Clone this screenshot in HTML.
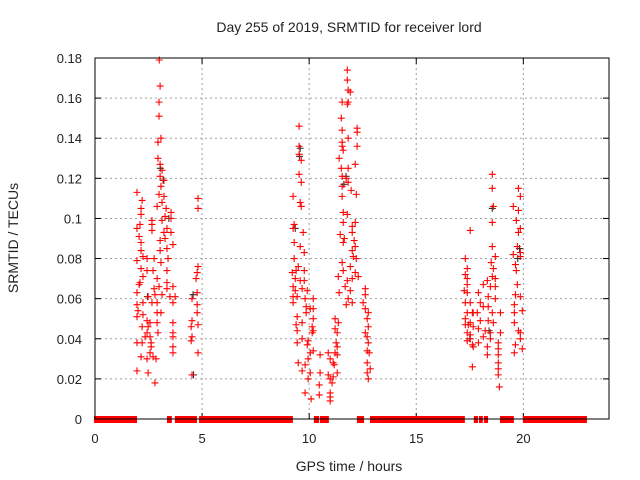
<!DOCTYPE html>
<html><head><meta charset="utf-8"><style>
html,body{margin:0;padding:0;background:#fff;}
svg{display:block;font-family:"Liberation Sans",sans-serif;}
</style></head><body>
<svg id="chart" width="640" height="480" viewBox="0 0 640 480" xmlns="http://www.w3.org/2000/svg">
<rect width="640" height="480" fill="#fff"/>
<text x="349" y="32" font-size="14" text-anchor="middle" fill="#222">Day 255 of 2019, SRMTID for receiver lord</text>
<text x="349" y="471" font-size="14" text-anchor="middle" fill="#222">GPS time / hours</text>
<text transform="translate(18,238) rotate(-90)" font-size="14" text-anchor="middle" fill="#222">SRMTID / TECUs</text>
<g id="grid"></g>
<g id="ticks"></g>
<g id="zeros"></g>
<g id="others"></g>
<g id="points"></g>
<rect x="95" y="58" width="514" height="361" fill="none" stroke="#000" stroke-width="1"/>
</svg>
<script>
const xTicks = [0,5,10,15,20];
const yTicks = [0,0.02,0.04,0.06,0.08,0.1,0.12,0.14,0.16,0.18];
const yTickLabels = ["0","0.02","0.04","0.06","0.08","0.1","0.12","0.14","0.16","0.18"];
const zeroIntervals = [[-0.05,1.96],[3.36,3.59],[3.73,4.76],[4.86,9.24],[10.22,10.46],[10.50,10.92],[12.23,12.56],[12.84,17.27],[17.69,17.88],[17.93,18.11],[18.16,18.35],[18.91,19.56],[19.98,22.97]];
const timeH = [
3.00,3.04,2.99,2.99,3.08,2.94,2.94,3.04,3.13,3.04,3.22,3.08,1.96,2.99,3.22,2.20,3.13,2.90,3.32,2.15,2.15,3.55,3.27,3.55,2.66,3.13,2.10,2.66,3.36,1.96,2.66,3.22,3.55,2.06,3.27,3.04,3.64,2.15,3.36,3.04,2.15,2.24,1.96,2.43,2.76,3.41,3.08,2.15,2.43,2.71,3.36,2.24,2.90,2.10,3.36,2.06,2.99,3.64,1.96,2.76,2.80,3.13,3.36,2.48,3.50,3.74,1.96,2.24,2.66,2.90,3.64,2.01,2.90,3.08,1.96,2.24,2.43,2.57,3.64,2.20,2.48,2.90,2.43,2.94,3.64,2.34,2.57,3.64,1.96,2.20,2.62,2.62,3.64,2.57,2.15,2.71,3.64,2.43,2.85,1.96,2.48,2.80,
4.81,4.81,4.81,4.77,4.72,4.77,4.53,4.77,4.77,4.81,4.53,4.49,4.53,4.49,4.81,4.53,
9.53,9.53,9.53,9.63,9.53,9.63,9.25,9.58,9.63,9.30,9.25,9.72,9.30,9.58,9.77,9.30,9.49,9.21,9.39,9.77,9.35,9.58,9.77,9.25,9.35,9.67,9.91,9.25,9.44,9.81,10.19,9.25,9.86,10.05,10.19,9.44,9.86,9.67,10.19,9.39,10.14,10.19,10.14,9.44,9.67,9.95,9.91,9.44,10.19,10.51,10.05,9.95,9.49,9.81,9.67,10.05,9.95,10.51,10.47,9.81,10.09,10.47,
11.21,11.36,11.21,11.31,11.26,11.31,10.89,11.21,11.31,10.98,11.12,11.17,11.31,10.89,10.98,11.07,11.12,10.98,10.98,10.98,
11.78,11.78,11.82,11.92,11.54,11.82,11.78,11.50,11.54,12.24,12.24,11.82,11.54,11.54,11.59,12.24,11.40,12.15,11.50,11.82,11.54,11.73,11.82,11.54,11.96,12.20,11.54,11.59,11.78,12.15,11.59,12.01,12.01,11.45,11.64,12.10,11.59,12.15,12.01,12.06,12.20,11.54,11.92,11.59,12.15,11.36,12.01,11.78,12.29,11.68,11.92,11.40,11.82,12.01,11.73,
12.62,12.62,12.52,12.62,12.76,12.71,12.76,12.62,12.71,12.76,12.71,12.80,12.71,12.85,12.71,12.76,
17.52,17.29,17.38,17.29,17.38,17.38,17.24,17.38,17.29,17.52,17.38,17.62,17.66,17.29,17.52,17.43,17.29,17.66,17.38,17.52,17.52,17.38,17.62,17.66,17.62,
18.55,18.55,18.60,18.55,18.55,18.69,18.50,18.60,18.55,18.69,18.32,18.13,18.46,18.69,17.90,18.36,18.69,17.99,18.13,18.36,17.85,18.55,18.93,17.99,18.36,18.60,17.90,18.22,18.46,18.93,18.13,18.46,18.83,17.90,18.32,18.83,18.32,18.83,18.83,18.83,18.83,18.88,
19.77,19.86,19.53,19.77,19.67,19.86,19.77,19.72,19.86,19.53,19.86,19.63,19.67,19.72,19.63,19.86,19.58,19.95,19.58,19.58,19.77,19.86,19.86,19.63,19.95,19.58
];
const srmtid = [
.179,.166,.158,.151,.140,.138,.130,.127,.124,.121,.119,.116,.113,.112,.111,.109,.108,.106,.105,.105,.102,.103,.101,.100,.099,.099,.097,.097,.095,.095,.094,.093,.093,.091,.090,.089,.087,.088,.085,.084,.084,.081,.079,.080,.080,.080,.078,.075,.074,.074,.074,.071,.070,.068,.068,.067,.066,.066,.063,.065,.062,.062,.065,.061,.061,.061,.057,.058,.058,.058,.058,.054,.053,.053,.051,.052,.049,.048,.048,.046,.046,.048,.043,.043,.043,.041,.041,.041,.038,.038,.038,.036,.036,.033,.031,.031,.033,.030,.030,.024,.023,.018,
.110,.105,.076,.073,.070,.063,.060,.057,.053,.047,.049,.046,.041,.039,.033,.022,
.146,.136,.132,.129,.122,.118,.111,.108,.106,.097,.095,.093,.088,.086,.083,.080,.076,.073,.074,.074,.070,.069,.069,.066,.064,.065,.064,.061,.061,.060,.060,.058,.056,.055,.055,.051,.053,.048,.050,.047,.046,.044,.043,.044,.040,.039,.037,.038,.034,.032,.033,.030,.028,.027,.024,.023,.020,.023,.017,.013,.010,.012,
.050,.048,.045,.043,.038,.036,.033,.033,.032,.030,.028,.027,.023,.022,.020,.018,.021,.013,.011,.009,
.174,.169,.164,.163,.158,.158,.157,.150,.144,.145,.143,.140,.138,.136,.134,.136,.130,.127,.125,.125,.121,.120,.118,.116,.114,.112,.111,.103,.102,.098,.098,.096,.093,.092,.090,.089,.088,.086,.084,.081,.080,.078,.076,.074,.073,.071,.070,.069,.071,.066,.064,.063,.060,.058,.057,
.065,.062,.058,.055,.053,.050,.046,.043,.041,.038,.034,.033,.028,.025,.023,.020,
.094,.080,.075,.072,.070,.067,.064,.063,.058,.058,.053,.053,.053,.050,.048,.047,.047,.046,.043,.042,.040,.039,.037,.036,.026,
.122,.115,.106,.098,.086,.081,.078,.075,.071,.070,.069,.067,.066,.066,.063,.061,.060,.058,.056,.056,.053,.053,.053,.049,.049,.048,.045,.044,.043,.043,.041,.040,.038,.038,.036,.035,.032,.032,.028,.025,.022,.016,
.115,.111,.106,.104,.099,.095,.093,.086,.083,.082,.081,.077,.074,.067,.062,.061,.057,.054,.053,.048,.044,.043,.040,.037,.035,.033
];
const otherTime = [9.58,9.55,11.72,11.62,3.05,3.18,18.55,19.82,19.74,2.45,4.58,4.60,9.35,3.45,17.50,18.40];
const otherVals = [.135,.131,.121,.117,.125,.119,.105,.085,.080,.061,.062,.022,.095,.100,.040,.044];

const X0=95, X1=609, T1=24, Y0=419, Y1=58, V1=0.18;
function xs(t){return X0+(X1-X0)*t/T1;}
function ys(v){return Y0-(Y0-Y1)*v/V1;}
const NS="http://www.w3.org/2000/svg";
function mk(tag,attrs,parent){const e=document.createElementNS(NS,tag);for(const k in attrs)e.setAttribute(k,attrs[k]);parent.appendChild(e);return e;}
const grid=document.getElementById('grid'), ticks=document.getElementById('ticks');
yTicks.forEach((v,i)=>{
  const y=ys(v);
  if(i>0){const g=mk('line',{x1:X0,x2:X1,y1:y,y2:y,stroke:'#a0a0a0','stroke-dasharray':'2,3','stroke-width':1},grid);
  
  }
  const t=mk('text',{x:82,y:y+5,'font-size':13,'text-anchor':'end',fill:'#222'},ticks);
  t.textContent=yTickLabels[i];
  
  
  mk('line',{x1:X0,x2:X0+6,y1:y,y2:y,stroke:'#000'},ticks);
  mk('line',{x1:X1,x2:X1-6,y1:y,y2:y,stroke:'#000'},ticks);
});
xTicks.forEach(tv=>{
  const x=xs(tv);
  if(tv>0){const g=mk('line',{x1:x,x2:x,y1:Y1,y2:Y0,stroke:'#a0a0a0','stroke-dasharray':'2,3','stroke-width':1},grid);
  
  }
  const t=mk('text',{x:x,y:443,'font-size':13,'text-anchor':'middle',fill:'#222'},ticks);
  t.textContent=String(tv);
  
  
  mk('line',{x1:x,x2:x,y1:Y0,y2:Y0-6,stroke:'#000'},ticks);
  mk('line',{x1:x,x2:x,y1:Y1,y2:Y1+6,stroke:'#000'},ticks);
});
const zeros=document.getElementById('zeros');
zeroIntervals.forEach(iv=>{
  const r=mk('rect',{x:xs(iv[0]),y:ys(0)-3,width:xs(iv[1])-xs(iv[0]),height:7,fill:'#ff0000'},zeros);
  
  
});
function plus(parent,t,v,col,name){
  const x=xs(t),y=ys(v);
  const p=mk('path',{d:`M${x-3.5} ${y}H${x+3.5}M${x} ${y-3.5}V${y+3.5}`,stroke:col,'stroke-width':1.1,fill:'none'},parent);
  
  
}
const others=document.getElementById('others');
otherTime.forEach((t,i)=>plus(others,t,otherVals[i],'#333','other-point'));
const pts=document.getElementById('points');
timeH.forEach((t,i)=>plus(pts,t,srmtid[i],'#ff0000','srmtid-point'));
mk('line',{x1:X0,x2:X1,y1:Y0,y2:Y0,stroke:'#000'},ticks);
</script>
</body></html>
